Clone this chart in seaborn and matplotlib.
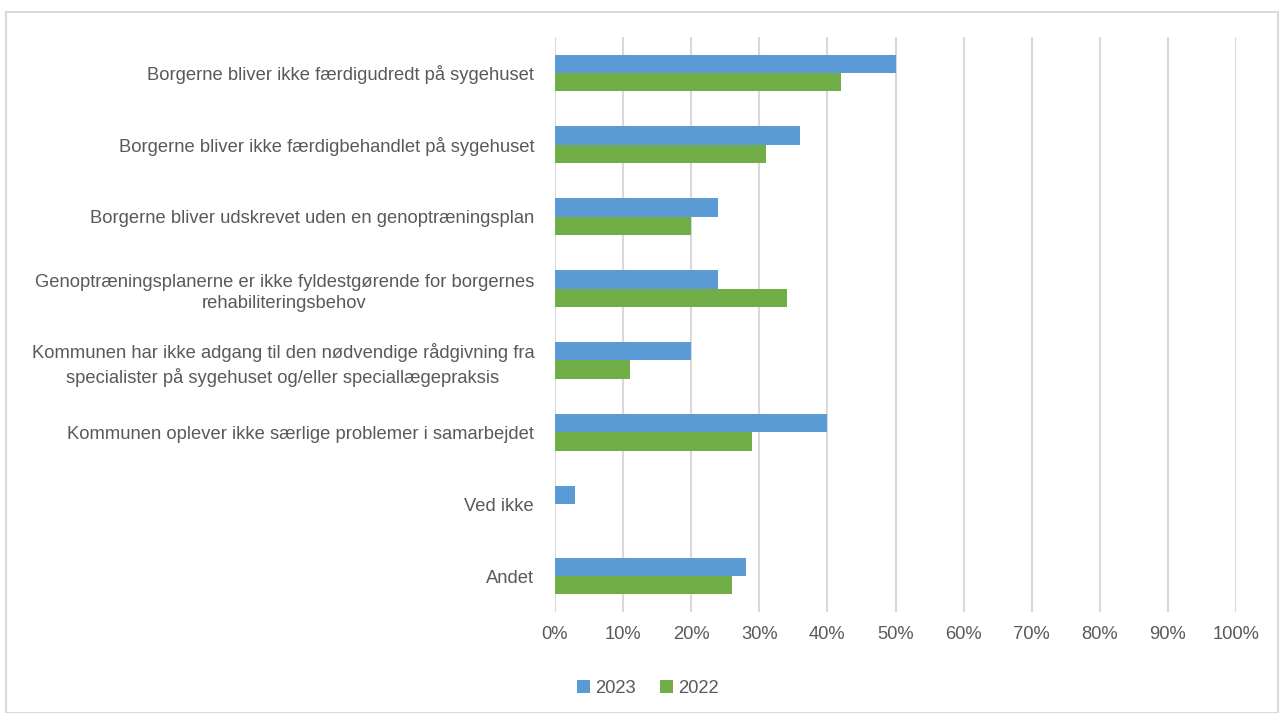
import matplotlib
matplotlib.use("Agg")
import matplotlib.pyplot as plt
import seaborn as sns
import pandas as pd
from matplotlib.patches import Rectangle
from matplotlib.ticker import FuncFormatter

categories = [
    "Borgerne bliver ikke færdigudredt på sygehuset",
    "Borgerne bliver ikke færdigbehandlet på sygehuset",
    "Borgerne bliver udskrevet uden en genoptræningsplan",
    "Genoptræningsplanerne er ikke fyldestgørende for borgernes\nrehabiliteringsbehov",
    "Kommunen har ikke adgang til den nødvendige rådgivning fra\nspecialister på sygehuset og/eller speciallægepraksis",
    "Kommunen oplever ikke særlige problemer i samarbejdet",
    "Ved ikke",
    "Andet",
]
values_2023 = [50, 36, 24, 24, 20, 40, 3, 28]
values_2022 = [42, 31, 20, 34, 11, 29, 0, 26]
series = ["2023", "2022"]
colors = ["#5B9BD5", "#70AD47"]

df = pd.DataFrame({
    "category": categories * 2,
    "value": values_2023 + values_2022,
    "year": [series[0]] * len(categories) + [series[1]] * len(categories),
})

sns.set_theme(style="white")
plt.rcParams["font.family"] = ["Liberation Sans", "DejaVu Sans"]
text_color = "#595959"
fs = 13.2

fig = plt.figure(figsize=(12.85, 7.13), dpi=100)
ax = fig.add_axes([0.4319, 0.1417, 0.53, 0.8065])

sns.barplot(data=df, y="category", x="value", hue="year", order=categories,
            hue_order=series, palette=colors, orient="h", width=0.51,
            saturation=1, ax=ax, legend=True, linewidth=0, edgecolor="none")

ax.set_xlim(0, 100)
ax.set_xticks(range(0, 101, 10))
ax.xaxis.set_major_formatter(FuncFormatter(lambda v, p: f"{int(v)}%"))
ax.grid(axis="x", color="#D9D9D9", linewidth=1.5)
ax.grid(axis="y", visible=False)
ax.set_axisbelow(True)
for s in ax.spines.values():
    s.set_visible(False)
ax.set_xlabel("")
ax.set_ylabel("")
ax.tick_params(axis="both", length=0, colors=text_color, labelsize=fs)
ax.tick_params(axis="x", pad=10)
ax.tick_params(axis="y", pad=15)
ax.set_yticks(range(len(categories)))
ax.set_yticklabels(categories, ha="right", multialignment="center",
                   linespacing=1.35, fontsize=fs, color=text_color)

leg = ax.legend(loc="upper center", bbox_to_anchor=((648 - 555) / 681, -0.09),
                ncol=2, frameon=False, fontsize=fs, handlelength=0.7, handleheight=0.7,
                handletextpad=0.3, columnspacing=1.3, labelcolor=text_color)

fig.patches.append(Rectangle((6 / 1285, 0), (1278 - 6) / 1285, 1 - 12 / 713,
                             transform=fig.transFigure, fill=False,
                             edgecolor="#D9D9D9", linewidth=1.5))

fig.savefig("out.png", dpi=100)
